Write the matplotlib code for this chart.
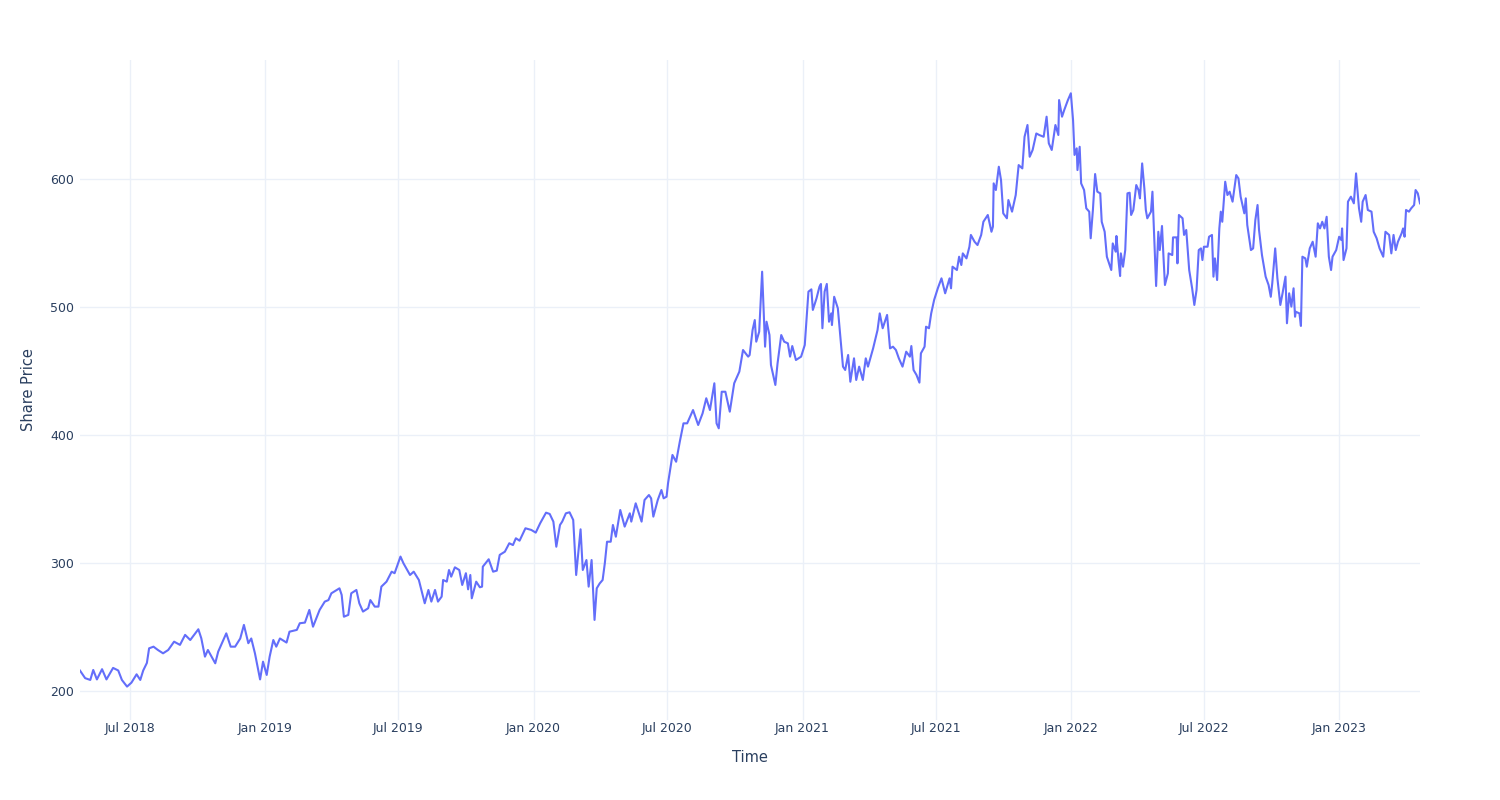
import matplotlib
matplotlib.use("Agg")
import matplotlib.pyplot as plt
import matplotlib.dates as mdates
import pandas as pd

start_date = "2018-04-24"

days_since_start = [
    0, 7, 14, 18, 23, 30, 36, 45, 52, 57, 64, 70, 77, 82, 86, 91, 94, 100, 106, 113, 120, 128, 136, 143, 150, 161, 165, 170, 174, 184, 188, 199, 205, 211,
    218, 223, 229, 233, 238, 245, 249, 254, 258, 263, 267, 272, 281, 285, 295, 299, 306, 312, 317, 326, 333, 338, 342, 353, 356, 359, 365, 369, 376, 380, 385, 392, 395, 401, 406, 410, 417, 424, 428, 436, 440,
    449, 454, 461, 469, 474, 478, 483, 487, 492, 494, 499, 502, 505, 510, 516, 520, 525, 528, 531, 533, 539, 544, 547, 548, 556, 562, 567, 571, 578, 584, 589, 593, 598, 606, 614, 620, 626, 634, 639, 644, 648, 653, 656, 661, 666, 671, 675, 681, 684, 689, 692, 696, 700, 703, 707,
    711, 714, 717, 722, 725, 729, 735, 741, 748, 750, 756, 764, 768, 774, 777, 780, 786, 791, 794, 798, 800, 806, 811, 816, 821, 826, 829, 834, 841, 847, 852, 857, 863, 866, 869, 873, 878, 884, 890, 897, 902, 909,
    911, 915, 918, 920, 924, 928, 932, 934, 938, 940, 946, 949, 954, 958, 963, 966, 969, 974, 981, 986, 991, 995, 997, 1002, 1006, 1008, 1010, 1013, 1016, 1019, 1022, 1023, 1026, 1031, 1038, 1041, 1045, 1048, 1053, 1056, 1060, 1065, 1069, 1072, 1079, 1085, 1088, 1092, 1098, 1102, 1106, 1110, 1114, 1119, 1124, 1129, 1131, 1134, 1138, 1142,
    1144, 1149, 1151, 1155, 1158, 1162, 1167, 1172, 1177, 1183, 1185, 1187, 1193, 1196, 1199, 1201, 1206, 1210, 1212, 1217, 1221, 1226, 1229, 1235, 1240, 1242, 1243, 1246, 1250, 1253, 1256, 1261, 1263, 1268, 1273, 1277, 1282, 1285, 1289, 1292, 1296, 1301, 1305, 1311, 1315, 1318, 1322, 1327, 1331, 1332, 1336, 1339, 1344, 1348, 1351, 1353, 1356, 1357, 1360,
    1362, 1366, 1369, 1373, 1375, 1378, 1381, 1384, 1388, 1390, 1394, 1397, 1403, 1405, 1409, 1410, 1413, 1415, 1416, 1419, 1422, 1425, 1428, 1430, 1433, 1437, 1440, 1442, 1445, 1448, 1450, 1452, 1457, 1459, 1461, 1464, 1467, 1469, 1472, 1474, 1476, 1480, 1481, 1486, 1487, 1492, 1493, 1495, 1500, 1502, 1505, 1509, 1513, 1516, 1519, 1522, 1525, 1527, 1529, 1534, 1536, 1540, 1542, 1544, 1547, 1550, 1552, 1554, 1558, 1561, 1564, 1568, 1573, 1576, 1579, 1584, 1586, 1588,
    1593, 1596, 1599, 1602, 1604, 1608, 1613, 1617, 1620, 1622, 1626, 1629, 1633, 1636, 1640, 1642, 1645, 1648, 1651, 1653, 1654, 1659, 1661, 1663, 1667, 1669, 1673, 1677, 1681, 1684, 1687, 1690, 1693, 1696, 1699, 1702, 1704, 1709, 1713, 1716, 1717, 1719, 1723, 1725, 1729, 1733, 1736, 1740, 1743, 1745, 1749, 1752, 1757, 1760, 1764, 1768, 1773, 1776, 1781, 1784, 1787, 1790, 1793, 1798, 1800, 1802, 1804, 1808, 1811, 1815, 1817, 1820, 1823,
]

share_price = [
    215.9, 210, 208.6, 216.4, 209, 217, 209, 218, 216, 208.6, 203.4, 206.5, 213, 208.6, 216, 221.9, 233.3, 234.6, 232, 229.4, 232, 238.5, 236, 243.8, 239.8, 248.2, 241.2, 226.8, 232, 221.6, 230.7, 245, 234.6, 234.6,
    241, 251.6, 237.3, 241, 229.4, 209, 222.9, 212.5, 226.8, 239.8, 234.6, 241, 237.8, 246.3, 247.7, 252.9, 253.4, 263.3, 250.2, 263.3, 269.8, 271, 276.3, 280.2, 275, 258, 259.4, 276.3, 278.9, 268.5, 262, 264.6, 271, 265.9, 265.9, 281.5, 285.4, 293.2, 292, 305, 299.8,
    290.6, 293.2, 286.7, 268.5, 278.9, 269.8, 278.9, 269.8, 273.7, 286.7, 285.4, 294.5, 289.3, 296.6, 294.5, 282.8, 292, 279.4, 290.6, 272.4, 285.4, 281, 281.5, 297.1, 302.9, 293.2, 294, 306.3, 308.8, 315.4, 314, 319.3, 317.4, 327.1, 325.8, 323.7, 331, 339.3, 338.3, 332.3, 312.7, 329.7, 332.3, 338.8, 339.6, 333.6, 290.6, 326.3, 294.5, 302.3, 281.5, 302.3, 255.5, 280.2, 284,
    286.7, 299.8, 316.6, 316.6, 329.7, 320.5, 341.4, 328.4, 338.8, 332.3, 346.6, 332.3, 349.2, 353.1, 350.5, 336.2, 349.2, 357, 350.5, 351.8, 362.3, 384.4, 379.1, 394.8, 409.1, 409.1, 413, 419.5, 407.8, 416.9, 428.7, 419.5, 440.4, 409.1, 405.2, 433.8, 433.8, 418.2, 440.4, 449.5, 466.4, 461.2,
    462.5, 482, 489.8, 472.9, 480.7, 527.6, 469, 488.5, 478.1, 454.7, 439.1, 456, 478.1, 472.9, 471.6, 461.2, 469.5, 458.6, 461.2, 470.3, 512, 513.8, 497.7, 506.8, 515.9, 518, 483.4, 512, 518, 488.5, 495, 485.9, 508, 499, 453.4, 450.8, 462.5, 441.6, 459.9, 443, 453.4, 443, 459.9, 453.4, 467.7, 482, 495, 483.4, 493.8, 467.7, 469, 466.4, 459.9, 453.4, 465.1, 461.2, 469.5, 450.8, 446.9, 440.9,
    463.8, 469, 484.6, 483.4, 495, 505.5, 514.6, 522.4, 510.7, 522.4, 514.6, 531.5, 528.9, 539.3, 532.8, 541.9, 538, 547.1, 556.3, 551, 548.4, 556.3, 566.6, 571.9, 558.8, 562.8, 596.6, 591.4, 609.6, 599.2, 573.2, 569.3, 583.6, 574.5, 587.5, 610.9, 608.3, 633, 642.2, 617.4, 622.7, 635.6, 634.4, 633, 648.7, 627.9, 622.7, 642.2, 634.4, 661.7, 648.7, 653.9, 661.7, 667, 646, 618.8, 624, 607, 625.2,
    596.6, 591.4, 577.1, 574.5, 553.7, 575.8, 603.9, 590.1, 588.8, 566.6, 558.8, 539.3, 528.9, 549.7, 543.2, 555.5, 535.4, 524.2, 541.9, 531.5, 544.5, 588.8, 589.3, 571.9, 575.8, 595.3, 591.4, 584.9, 612.2, 592.7, 575.8, 569.3, 574.5, 590.1, 560.2, 516.4, 558.8, 544.5, 563.3, 539.3, 517.2, 526.3, 541.9, 540.6, 554.4, 554.4, 534.1, 571.9, 569.3, 556.3, 560.2, 528.9, 514.6, 501.6, 513.3, 544.5, 545.8, 536.7, 547.1, 547.1, 554.9, 556.3, 523.7, 538, 521.1, 561.4, 574.5, 566.6, 597.9, 587.5, 590.1, 582.3, 603.1, 600.5, 586.2, 573.2, 584.9, 564.1,
    544.5, 545.8, 568, 579.7, 560.2, 540.6, 523.7, 517.2, 508, 518.5, 545.8, 522.4, 501.6, 510.7, 523.7, 487.3, 510.7, 500.3, 514.6, 492.4, 496.3, 495, 485.2, 539.3, 538, 531.5, 545.8, 551, 539.3, 565.4, 561.4, 566.6, 561.4, 570.5, 539.3, 528.9, 539.3, 544.5, 554.9, 552.3, 561.4, 536.7, 545.8, 582.3, 586.2, 581, 604.4, 577.1, 566.6, 582.3, 587.5, 575.8, 574.5, 558.8, 553.7, 545.8, 539.3, 558.8, 556.3, 541.9, 556.3, 544.5, 551, 557.6, 561.4, 554.9, 575.8, 574.5, 577.1, 579.7, 591.4, 588.8, 581,
]

y_ticks = [200, 300, 400, 500, 600]
x_title = "Time"
y_title = "Share Price"

dates = pd.Timestamp(start_date) + pd.to_timedelta(days_since_start, unit="D")

plt.rcParams["font.family"] = ["DejaVu Sans"]
fig = plt.figure(figsize=(15, 8), dpi=100)
ax = fig.add_axes([80 / 1500, 80 / 800, 1340 / 1500, 660 / 800])

ax.plot(dates, share_price, color="#636efa", linewidth=1.5, solid_joinstyle="round")

ax.set_xlim(dates[0], dates[-1])
ax.set_ylim(177.3, 693)
ax.set_yticks(y_ticks)
ax.xaxis.set_major_locator(mdates.MonthLocator(bymonth=[1, 7]))
ax.xaxis.set_major_formatter(mdates.DateFormatter("%b %Y"))

ax.grid(True, color="#ebf0f8", linewidth=1)
ax.set_axisbelow(True)
for s in ax.spines.values():
    s.set_visible(False)
ax.tick_params(axis="both", length=0, labelsize=9, labelcolor="#2a3f5f")
ax.tick_params(axis="x", pad=1.5)
ax.tick_params(axis="y", pad=4)

ax.set_xlabel(x_title, fontsize=10.5, color="#2a3f5f", labelpad=10.5)
ax.set_ylabel(y_title, fontsize=10.5, color="#2a3f5f", labelpad=10.5)

fig.savefig("out.png", dpi=100, facecolor="white")
